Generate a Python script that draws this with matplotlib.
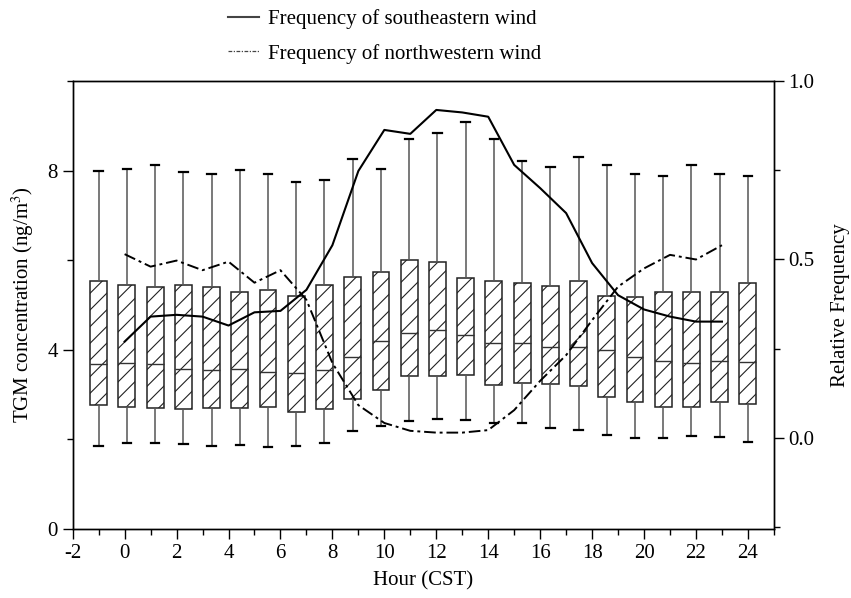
import numpy as np
import matplotlib
matplotlib.use('Agg')
import matplotlib.pyplot as plt
from matplotlib.ticker import MultipleLocator
from matplotlib.lines import Line2D

plt.rcParams['font.family'] = ['Liberation Serif', 'DejaVu Serif']
plt.rcParams['mathtext.fontset'] = 'stix'
plt.rcParams['hatch.linewidth'] = 0.8
plt.rcParams['hatch.color'] = '#333333'

# TGM box statistics per hour (ng/m3), hours 0..23
hours = np.arange(24)
whis_hi = [8.00, 8.04, 8.12, 7.97, 7.93, 8.02, 7.93, 7.75, 7.80, 8.26, 8.04, 8.71,
           8.85, 9.09, 8.71, 8.21, 8.08, 8.30, 8.12, 7.93, 7.89, 8.12, 7.93, 7.89]
q3 = [5.53, 5.44, 5.40, 5.44, 5.40, 5.29, 5.34, 5.21, 5.44, 5.62, 5.74, 6.00,
      5.97, 5.60, 5.53, 5.50, 5.43, 5.54, 5.21, 5.17, 5.30, 5.30, 5.29, 5.50]
med = [3.69, 3.70, 3.69, 3.58, 3.54, 3.58, 3.51, 3.49, 3.55, 3.83, 4.20, 4.37,
       4.45, 4.32, 4.15, 4.15, 4.06, 4.07, 4.00, 3.84, 3.76, 3.70, 3.75, 3.72]
q1 = [2.77, 2.73, 2.71, 2.67, 2.71, 2.70, 2.72, 2.61, 2.67, 2.90, 3.11, 3.42,
      3.42, 3.44, 3.22, 3.26, 3.23, 3.20, 2.94, 2.84, 2.73, 2.72, 2.83, 2.79]
whis_lo = [1.85, 1.91, 1.91, 1.90, 1.85, 1.88, 1.83, 1.85, 1.92, 2.19, 2.30, 2.41,
           2.46, 2.44, 2.36, 2.36, 2.26, 2.22, 2.10, 2.03, 2.03, 2.07, 2.06, 1.95]

# relative frequency of wind direction per hour
freq_se = [0.27, 0.34, 0.345, 0.34, 0.315, 0.352, 0.356, 0.415, 0.54, 0.748, 0.863, 0.852,
           0.919, 0.912, 0.90, 0.765, 0.70, 0.63, 0.49, 0.40, 0.36, 0.34, 0.326, 0.326]
freq_nw = [0.515, 0.48, 0.497, 0.47, 0.494, 0.435, 0.47, 0.387, 0.21, 0.092, 0.042, 0.02,
           0.015, 0.015, 0.022, 0.078, 0.16, 0.232, 0.33, 0.424, 0.475, 0.513, 0.50, 0.54]

stats = []
for i in range(len(hours)):
    stats.append({'med': med[i], 'q1': q1[i], 'q3': q3[i],
                  'whislo': whis_lo[i], 'whishi': whis_hi[i], 'fliers': []})

fig = plt.figure(figsize=(8.51, 5.98), dpi=100)
ax = fig.add_axes([0.0854, 0.1154, 0.824, 0.7491])

box_pos = np.linspace(-1, 24, len(hours))
bp = ax.bxp(stats, positions=box_pos, widths=0.65, patch_artist=True, showfliers=False,
            boxprops=dict(facecolor='white', edgecolor='#222222', linewidth=1.1, hatch='//'),
            medianprops=dict(color='#333333', linewidth=1.0),
            whiskerprops=dict(color='#555555', linewidth=1.1),
            capprops=dict(color='black', linewidth=1.6))

ax.set_xlim(-2, 25)
ax.set_ylim(0, 10)
ax.xaxis.set_major_locator(MultipleLocator(2))
ax.xaxis.set_minor_locator(MultipleLocator(1))
ax.yaxis.set_major_locator(MultipleLocator(4))
ax.yaxis.set_minor_locator(MultipleLocator(2))
ax.set_xticks(np.arange(-2, 25, 2))
ax.set_xticklabels([str(v) for v in range(-2, 25, 2)])
ax.tick_params(which='major', direction='out', length=7, width=1.0, labelsize=15)
ax.tick_params(which='minor', direction='out', length=4, width=1.0)
ax.tick_params(axis='y', right=False)
ax.set_xlabel('Hour (CST)', fontsize=15, labelpad=6)
ax.set_ylabel('TGM concentration (ng/m$^3$)', fontsize=15, labelpad=8)

ax2 = ax.twinx()
ax2.plot(hours, freq_se, color='black', linewidth=1.5, linestyle='-')
ax2.plot(hours, freq_nw, color='black', linewidth=1.4, linestyle=(0, (6, 2, 1.5, 2)))
ax2.set_ylim(-0.255, 1.0)
ax2.yaxis.set_major_locator(MultipleLocator(0.5))
ax2.yaxis.set_minor_locator(MultipleLocator(0.25))
ax2.yaxis.set_major_formatter(matplotlib.ticker.FormatStrFormatter('%.1f'))
ax2.tick_params(which='major', direction='out', length=7, width=1.0, labelsize=15)
ax2.tick_params(which='minor', direction='out', length=4, width=1.0)
ax2.set_ylabel('Relative Frequency', fontsize=15, labelpad=12)

for a in (ax, ax2):
    for sp in a.spines.values():
        sp.set_linewidth(1.0)

handles = [Line2D([], [], color='#444444', linewidth=1.5, linestyle='-'),
           Line2D([], [], color='#444444', linewidth=0.9, linestyle=(0, (3, 1.2, 1, 1.2)))]
fig.legend(handles, ['Frequency of southeastern wind', 'Frequency of northwestern wind'],
           loc='upper left', bbox_to_anchor=(0.268, 0.985), frameon=False, fontsize=15,
           handlelength=1.5, handletextpad=0.4, labelspacing=0.72, borderpad=0, borderaxespad=0)

fig.savefig('out.png', dpi=100)
